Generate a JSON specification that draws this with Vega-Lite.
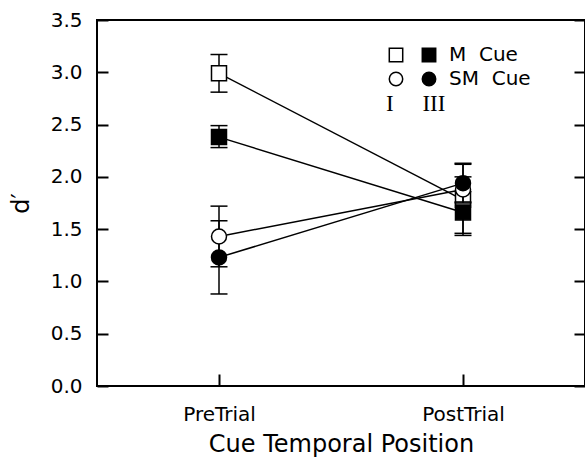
{
  "$schema": "https://vega.github.io/schema/vega-lite/v6.json",
  "width": 488,
  "height": 366,
  "autosize": {"type": "none"},
  "padding": {"left": 97, "top": 20, "right": 0, "bottom": 72},
  "background": "white",
  "config": {
    "view": {"stroke": "black", "strokeWidth": 2},
    "font": "DejaVu Sans",
    "axis": {"domain": false, "grid": false, "tickColor": "black", "tickWidth": 2, "labelColor": "black", "titleColor": "black", "labelFont": "DejaVu Sans", "titleFont": "DejaVu Sans", "titleFontWeight": "normal"},
    "legend": {"symbolStrokeColor": "black", "symbolStrokeWidth": 1.5, "symbolOpacity": 1,
      "labelFontSize": 20, "labelFont": "DejaVu Sans", "labelColor": "black",
      "titleFont": "Liberation Serif", "titleFontSize": 23, "titleFontWeight": "normal", "titleColor": "black"}
  },
  "data": {
    "values": [
      {"series": "M-I", "pos": "PreTrial", "d": 2.99, "lo": 2.81, "hi": 3.17},
      {"series": "M-I", "pos": "PostTrial", "d": 1.78, "lo": 1.44, "hi": 2.12},
      {"series": "M-III", "pos": "PreTrial", "d": 2.38, "lo": 2.28, "hi": 2.49},
      {"series": "M-III", "pos": "PostTrial", "d": 1.66, "lo": 1.46, "hi": 1.86},
      {"series": "SM-I", "pos": "PreTrial", "d": 1.43, "lo": 1.14, "hi": 1.72},
      {"series": "SM-I", "pos": "PostTrial", "d": 1.88, "lo": 1.76, "hi": 2.0},
      {"series": "SM-III", "pos": "PreTrial", "d": 1.23, "lo": 0.88, "hi": 1.58},
      {"series": "SM-III", "pos": "PostTrial", "d": 1.94, "lo": 1.75, "hi": 2.13}
    ]
  },
  "resolve": {"axis": {"y": "independent", "x": "independent"}},
  "layer": [
    {
      "mark": {"type": "line", "color": "black", "strokeWidth": 1.5},
      "encoding": {
        "x": {"field": "pos", "type": "nominal", "scale": {"type": "point", "domain": ["PreTrial", "PostTrial"], "padding": 0.5},
          "axis": {"orient": "bottom", "title": "Cue Temporal Position", "labelAngle": 0, "tickSize": -12, "labelPadding": 30, "labelFontSize": 20, "titleFontSize": 24, "titlePadding": 8}},
        "y": {"field": "d", "type": "quantitative", "scale": {"domain": [0, 3.5], "nice": false, "zero": false},
          "axis": {"orient": "left", "title": "d′", "values": [0, 0.5, 1, 1.5, 2, 2.5, 3, 3.5], "format": ".1f", "tickSize": -11, "labelPadding": 26, "labelFontSize": 20, "titleFontSize": 24, "titlePadding": 17}},
        "detail": {"field": "series"}
      }
    },
    {
      "transform": [{"filter": "indexof(['M-I','M-III'], datum.series) >= 0"}],
      "mark": {"type": "rule", "color": "black", "strokeWidth": 1.5},
      "encoding": {
        "x": {"field": "pos", "type": "nominal", "axis": null},
        "y": {"field": "lo", "type": "quantitative", "axis": {"orient": "right", "title": null, "labels": false, "values": [0, 0.5, 1, 1.5, 2, 2.5, 3, 3.5], "tickSize": -11}},
        "y2": {"field": "hi"}
      }
    },
    {
      "transform": [{"filter": "indexof(['M-I','M-III'], datum.series) >= 0"}],
      "mark": {"type": "tick", "color": "black", "thickness": 1.5, "size": 17, "opacity": 1},
      "encoding": {
        "x": {"field": "pos", "type": "nominal", "axis": null},
        "y": {"field": "lo", "type": "quantitative", "axis": null}
      }
    },
    {
      "transform": [{"filter": "indexof(['M-I','M-III'], datum.series) >= 0"}],
      "mark": {"type": "tick", "color": "black", "thickness": 1.5, "size": 17, "opacity": 1},
      "encoding": {
        "x": {"field": "pos", "type": "nominal", "axis": null},
        "y": {"field": "hi", "type": "quantitative", "axis": null}
      }
    },
    {
      "transform": [{"filter": "indexof(['M-I','M-III'], datum.series) >= 0"}],
      "mark": {"type": "point", "filled": true, "stroke": "black", "strokeWidth": 1.5, "opacity": 1, "size": 225},
      "encoding": {
        "x": {"field": "pos", "type": "nominal", "axis": null},
        "y": {"field": "d", "type": "quantitative", "axis": null},
        "shape": {"field": "series", "type": "nominal", "scale": {"domain": ["M-I", "M-III", "SM-I", "SM-III"], "range": ["square", "square", "circle", "circle"]},
          "legend": {"orient": "none", "legendX": 289, "legendY": 25, "direction": "horizontal", "columns": 2, "gridAlign": "each", "columnPadding": 3, "rowPadding": 4, "symbolSize": 180, "labelOffset": 10, "titleOrient": "bottom", "titlePadding": 4,
            "title": "I\u00a0\u00a0\u00a0\u00a0\u00a0III", "labelExpr": "datum.label == 'M-III' ? 'M\u00a0\u00a0Cue' : datum.label == 'SM-III' ? 'SM\u00a0\u00a0Cue' : '\u00a0'",
            "encode": {"symbols": {"update": {"stroke": {"value": "black"}, "strokeWidth": {"value": 1.5}}}}}},
        "fill": {"field": "series", "type": "nominal", "scale": {"domain": ["M-I", "M-III", "SM-I", "SM-III"], "range": ["white", "black", "white", "black"]},
          "legend": {"orient": "none", "legendX": 289, "legendY": 25, "direction": "horizontal", "columns": 2, "gridAlign": "each", "columnPadding": 3, "rowPadding": 4, "symbolSize": 180, "labelOffset": 10, "titleOrient": "bottom", "titlePadding": 4,
            "title": "I\u00a0\u00a0\u00a0\u00a0\u00a0III", "labelExpr": "datum.label == 'M-III' ? 'M\u00a0\u00a0Cue' : datum.label == 'SM-III' ? 'SM\u00a0\u00a0Cue' : '\u00a0'",
            "encode": {"symbols": {"update": {"stroke": {"value": "black"}, "strokeWidth": {"value": 1.5}}}}}}
      }
    },
    {
      "transform": [{"filter": "indexof(['SM-I','SM-III'], datum.series) >= 0"}],
      "mark": {"type": "rule", "color": "black", "strokeWidth": 1.5},
      "encoding": {
        "x": {"field": "pos", "type": "nominal", "axis": null},
        "y": {"field": "lo", "type": "quantitative", "axis": null},
        "y2": {"field": "hi"}
      }
    },
    {
      "transform": [{"filter": "indexof(['SM-I','SM-III'], datum.series) >= 0"}],
      "mark": {"type": "tick", "color": "black", "thickness": 1.5, "size": 17, "opacity": 1},
      "encoding": {
        "x": {"field": "pos", "type": "nominal", "axis": null},
        "y": {"field": "lo", "type": "quantitative", "axis": null}
      }
    },
    {
      "transform": [{"filter": "indexof(['SM-I','SM-III'], datum.series) >= 0"}],
      "mark": {"type": "tick", "color": "black", "thickness": 1.5, "size": 17, "opacity": 1},
      "encoding": {
        "x": {"field": "pos", "type": "nominal", "axis": null},
        "y": {"field": "hi", "type": "quantitative", "axis": null}
      }
    },
    {
      "transform": [{"filter": "indexof(['SM-I','SM-III'], datum.series) >= 0"}],
      "mark": {"type": "point", "filled": true, "stroke": "black", "strokeWidth": 1.5, "opacity": 1, "size": 225},
      "encoding": {
        "x": {"field": "pos", "type": "nominal", "axis": null},
        "y": {"field": "d", "type": "quantitative", "axis": null},
        "shape": {"field": "series", "type": "nominal"},
        "fill": {"field": "series", "type": "nominal"}
      }
    }
  ]
}
